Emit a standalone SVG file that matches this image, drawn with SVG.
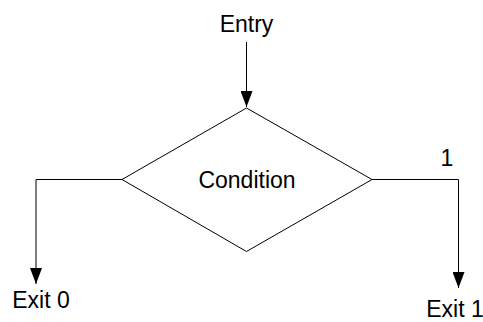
<svg xmlns="http://www.w3.org/2000/svg" width="483" height="322" viewBox="0 0 483 322">
<defs>
<style>
text{font-family:"Liberation Sans",Arial,sans-serif;font-size:23px;fill:#000}
.ln{fill:none;stroke:#000;stroke-width:1}
</style>
<marker id="ah" viewBox="0 0 16 12" refX="16" refY="6" markerWidth="16" markerHeight="12" markerUnits="userSpaceOnUse" orient="auto">
<path d="M0,0 L16,6 L0,12 Z" fill="#000"/>
</marker>
</defs>
<rect width="483" height="322" fill="#fff"/>
<g id="connectors">
<path class="ln" d="M246.5,42 V107" marker-end="url(#ah)"/>
<path class="ln" d="M122,179.5 H36 V284" marker-end="url(#ah)"/>
<path class="ln" d="M372,179.5 H458.5 V288" marker-end="url(#ah)"/>
<text x="447" y="166" text-anchor="middle">1</text>
</g>
<g id="entry"><text x="246.5" y="32" text-anchor="middle">Entry</text></g>
<g id="condition">
<polygon class="ln" points="246.5,108 372,179.5 246.5,251.5 122,179.5" fill="#fff"/>
<text x="247" y="188" text-anchor="middle">Condition</text>
</g>
<g id="exit0"><text x="41" y="308" text-anchor="middle">Exit 0</text></g>
<g id="exit1"><text x="455" y="317" text-anchor="middle">Exit 1</text></g>
</svg>
